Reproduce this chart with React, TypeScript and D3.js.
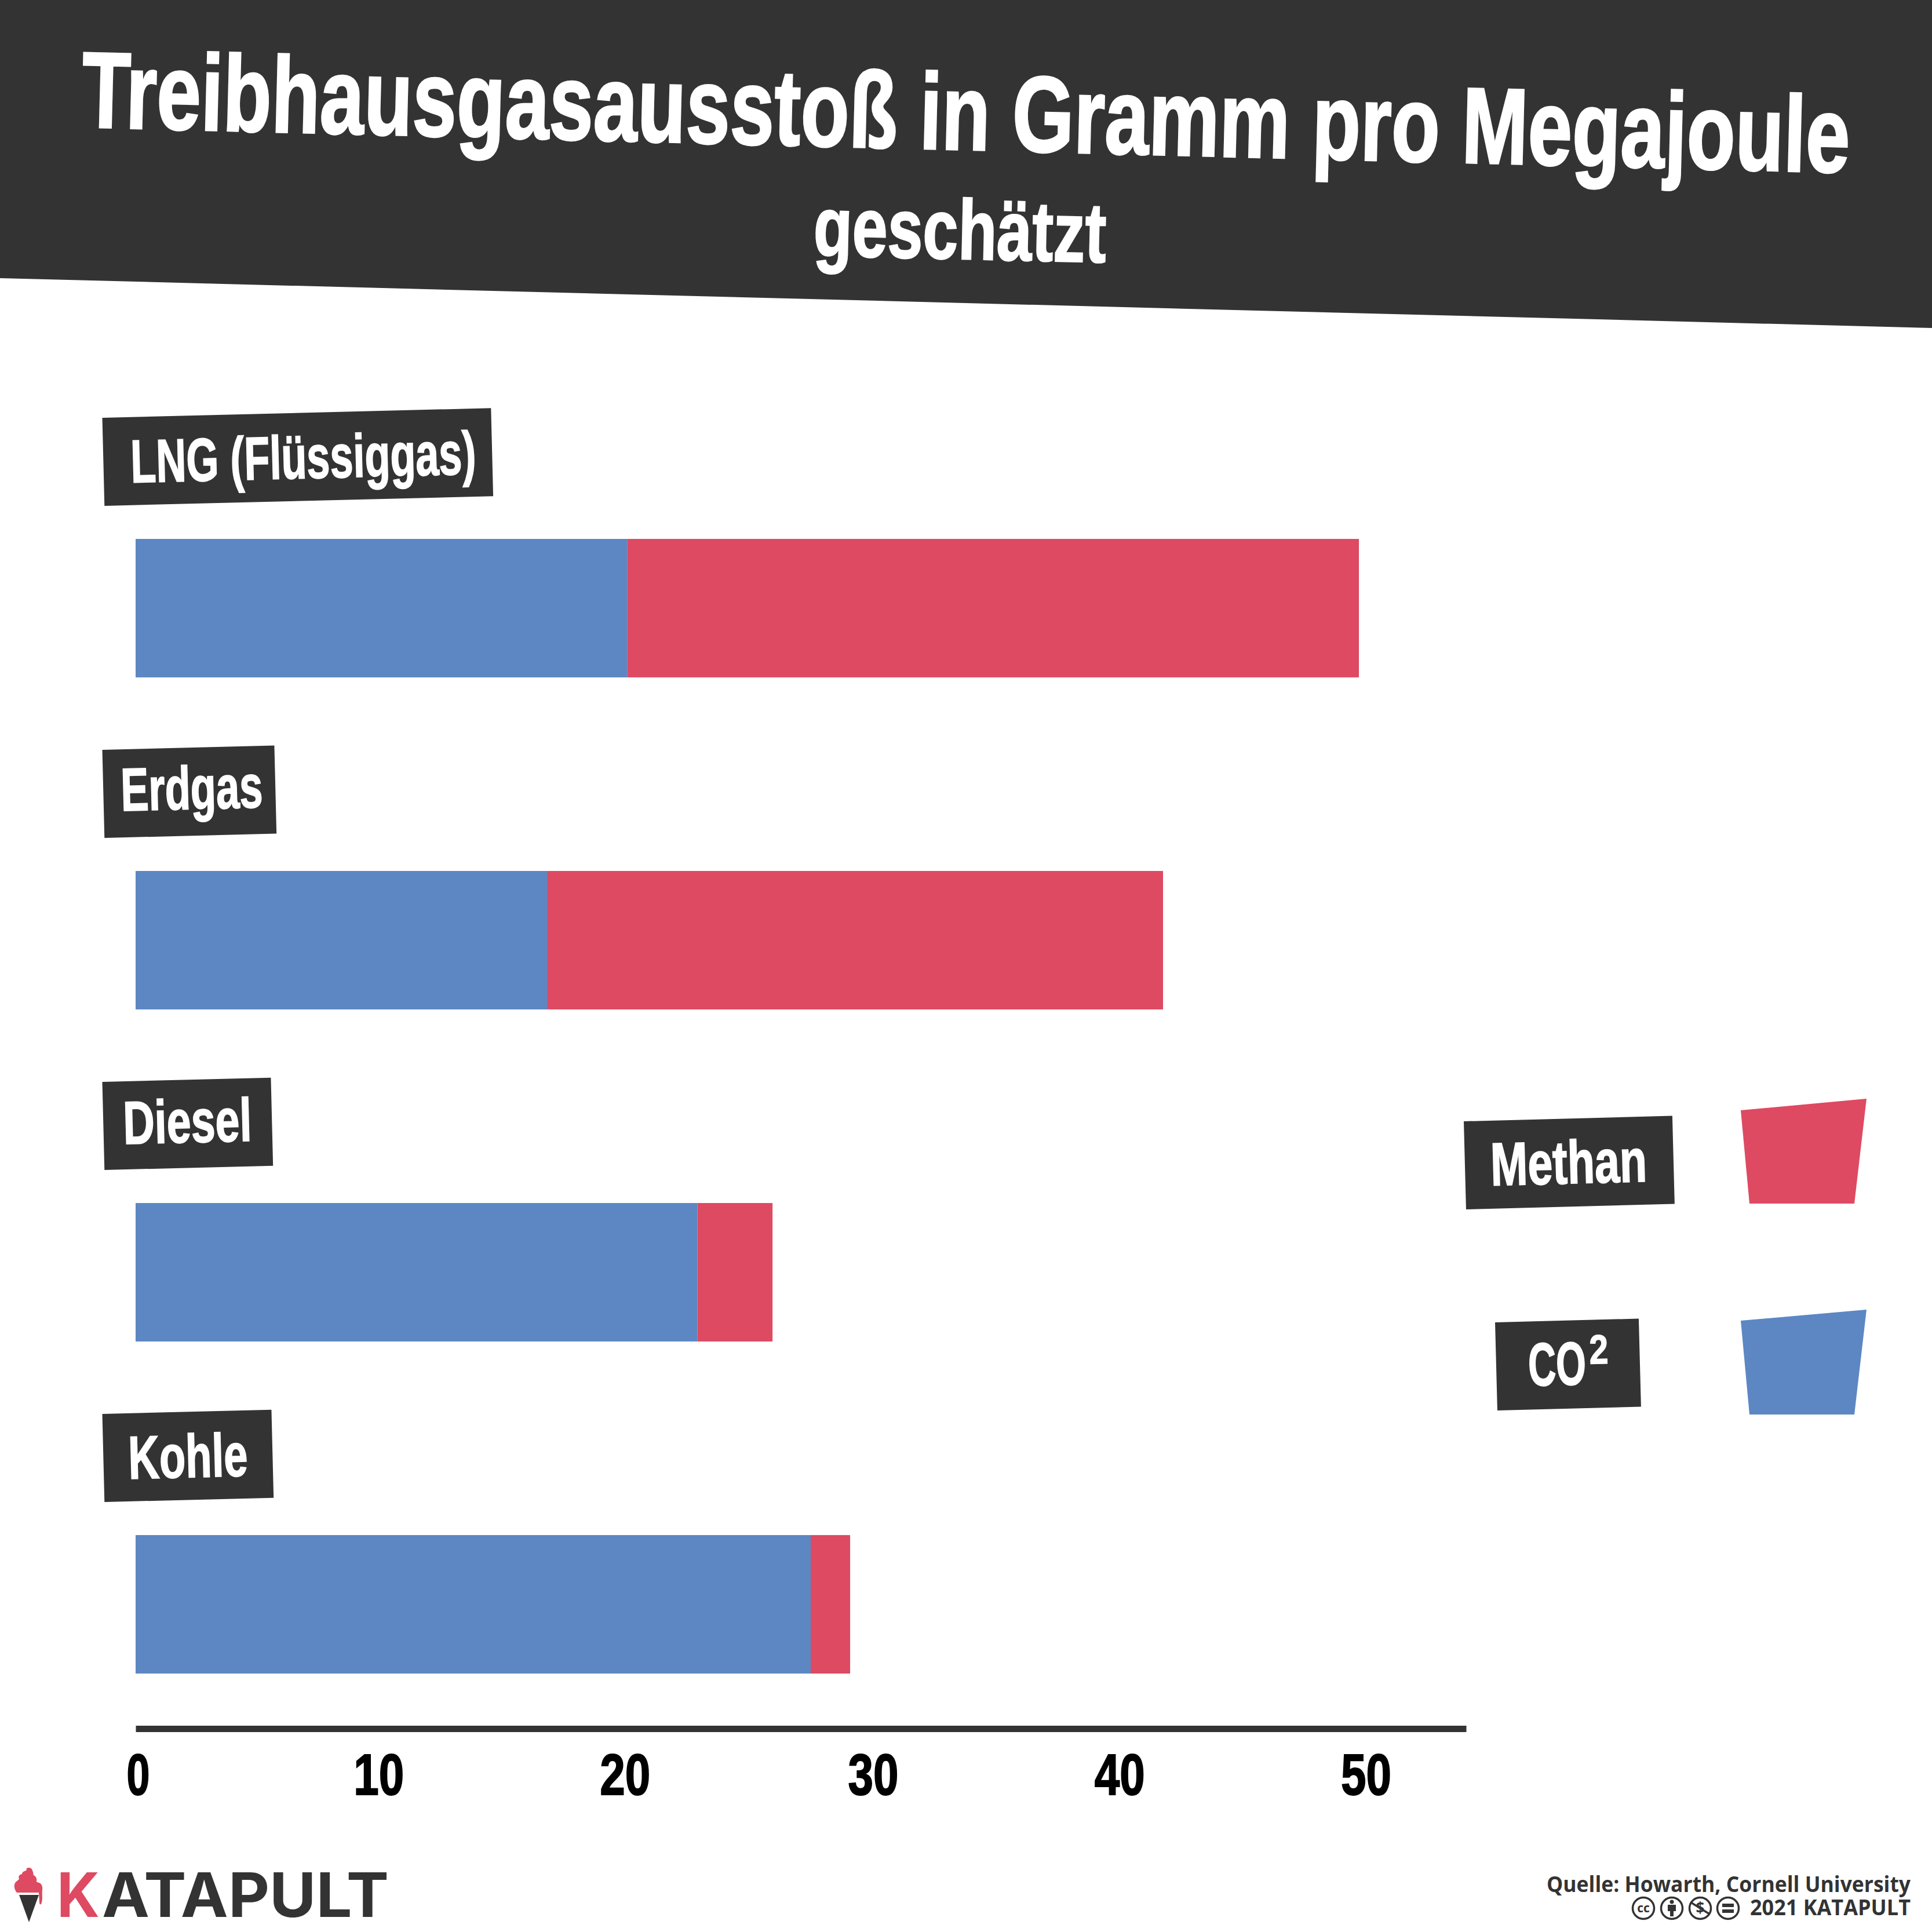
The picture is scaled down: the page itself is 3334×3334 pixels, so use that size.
import React, { useRef, useEffect } from "react";
import * as d3 from "d3";

// values, g per MJ
const categories = ["LNG (Flüssiggas)", "Erdgas", "Diesel", "Kohle"];
const co2 = [19.95, 16.7, 22.8, 27.4];
const methan = [29.7, 25, 3.05, 1.6];
const seriesKeys = ["co2", "methan"];
const axisTicks = [0, 10, 20, 30, 40, 50];

const DARK = "#333333";
const RED = "#dd4a62";
const BLUE = "#5c87c3";
const CONDENSED = "'Liberation Sans', sans-serif";

const SIZE = 3334;
const rows = categories.map((name, i) => ({ name, co2: co2[i], methan: methan[i] }));

const x = d3.scaleLinear().domain([0, 54]).range([234, 2530]);
const y = d3
  .scaleBand<string>()
  .domain(categories)
  .range([930, 2888])
  .paddingInner(0.583)
  .paddingOuter(0);
const color = d3.scaleOrdinal<string>().domain(seriesKeys).range([BLUE, RED]);
const stacked = d3.stack<any>().keys(seriesKeys)(rows);

// label box widths and text placement, in the same order as categories
const labelBoxWidth = [671, 297, 291, 292];
const labelTextX = [47, 30, 34, 43];
const labelTextY = [113, 106, 108, 113];
const labelTextWidth = [596, 245, 222, 206];

const BlockText: React.FC<{
  x: number;
  y: number;
  width: number;
  size: number;
  angle?: number;
  children: React.ReactNode;
}> = ({ x: tx, y: ty, width, size, angle = 0, children }) => (
  <text
    x={tx}
    y={ty}
    fontFamily={CONDENSED}
    fontWeight={700}
    fontSize={size}
    fill="#fff"
    stroke="#fff"
    strokeWidth={size * 0.018}
    textLength={width}
    lengthAdjust="spacingAndGlyphs"
    transform={angle ? `rotate(${angle} ${tx} ${ty})` : undefined}
  >
    {children}
  </text>
);

const CcIcons: React.FC = () => {
  const cy = 3293;
  return (
    <g fill="none" stroke={DARK} strokeWidth={3.5}>
      {[2836, 2885, 2934, 2982].map((cx) => (
        <circle key={cx} cx={cx} cy={cy} r={18.5} />
      ))}
      <text x={2836} y={3300} textAnchor="middle" fontFamily="'Open Sans'" fontWeight={700} fontSize={21} fill={DARK} stroke="none">
        cc
      </text>
      <circle cx={2885} cy={3282} r={3.5} fill={DARK} stroke="none" />
      <path d="M2878 3287h14v11h-4v9h-6v-9h-4z" fill={DARK} stroke="none" />
      <text x={2934} y={3302} textAnchor="middle" fontFamily="'Open Sans'" fontWeight={700} fontSize={26} fill={DARK} stroke="none">
        $
      </text>
      <path d="M2918 3283l32 20" />
      <path d="M2972 3285h20v6h-20zM2972 3295h20v6h-20z" fill={DARK} stroke="none" />
    </g>
  );
};

const App: React.FC = () => {
  const axisRef = useRef<SVGGElement | null>(null);

  useEffect(() => {
    if (!axisRef.current) return;
    const g = d3.select(axisRef.current);
    g.call(d3.axisBottom(x).tickValues(axisTicks).tickSize(0).tickSizeOuter(0).tickFormat(d3.format("d")));
    g.select(".domain").attr("stroke", DARK).attr("stroke-width", 11);
    g.selectAll(".tick text")
      .attr("y", 114)
      .attr("dy", 0)
      .attr("dx", (d: any) => (d === 0 ? 4 : d >= 30 ? -3 : -6))
      .attr("fill", "#000")
      .attr("stroke", "#000")
      .attr("stroke-width", 2)
      .attr("font-family", CONDENSED)
      .attr("font-weight", 700)
      .attr("font-size", 100)
      .attr("textLength", (d: any) => (d === 0 ? 40 : 87))
      .attr("lengthAdjust", "spacingAndGlyphs");
  }, []);

  return (
    <svg
      width={SIZE}
      height={SIZE}
      viewBox={`0 0 ${SIZE} ${SIZE}`}
      style={{ position: "absolute", left: 0, top: 0, background: "#fff" }}
    >
      {/* header */}
      <polygon points="0,0 3334,0 3334,566 0,480" fill={DARK} />
      <BlockText x={140} y={219} width={3052} size={186} angle={1.48}>
        Treibhausgasausstoß in Gramm pro Megajoule
      </BlockText>
      <BlockText x={1403} y={441} width={505} size={146} angle={1.3}>
        geschätzt
      </BlockText>

      {/* bars */}
      {stacked.map((s) =>
        s.map((d, i) => (
          <rect
            key={`${s.key}-${i}`}
            x={x(d[0])}
            y={y(categories[i])}
            width={x(d[1]) - x(d[0])}
            height={y.bandwidth()}
            fill={color(s.key)}
          />
        ))
      )}

      {/* category labels */}
      {categories.map((c, i) => (
        <g key={c} transform={`translate(176.5,${(y(c) as number) - 209}) rotate(-1.43)`}>
          <rect width={labelBoxWidth[i]} height={152} fill={DARK} />
          <BlockText x={labelTextX[i]} y={labelTextY[i]} width={labelTextWidth[i]} size={105}>
            {c}
          </BlockText>
        </g>
      ))}

      {/* axis */}
      <g ref={axisRef} transform="translate(0,2983)" />

      {/* legend */}
      <g transform="translate(2526,1935) rotate(-1.5)">
        <rect width={360} height={152} fill={DARK} />
        <BlockText x={44} y={112} width={270} size={105}>
          Methan
        </BlockText>
      </g>
      <polygon points="3004,1916 3221,1896 3200,2077 3019,2077" fill={RED} />
      <g transform="translate(2580,2282) rotate(-1.5)">
        <rect width={248} height={152} fill={DARK} />
        <BlockText x={55} y={111} width={100} size={105}>
          CO
        </BlockText>
        <BlockText x={161} y={76} width={33} size={71}>
          2
        </BlockText>
      </g>
      <polygon points="3004,2279 3221,2260 3200,2441 3019,2441" fill={BLUE} />

      {/* logo */}
      <g>
        <path
          d="M29 3266C24 3260 23 3251 28 3247C32 3244 33 3243 33 3242C31 3238 33 3235 38 3234C38 3231 41 3229 45 3228C47 3226 45 3225 46 3224C50 3222 55 3223 56 3228C58 3232 57 3234 58 3236C62 3238 64 3242 63 3246C63 3248 66 3249 68 3249C72 3251 74 3256 73 3262C72 3270 74 3276 72 3283C71 3288 68 3287 68 3283L67 3266Z"
          fill={RED}
        />
        <polygon points="33,3270 67,3270 50,3317" fill={DARK} />
        <text x={98} y={3308} fontFamily="Inter" fontWeight={700} fontSize={106} fill={RED} textLength={74} lengthAdjust="spacingAndGlyphs">
          K
        </text>
        <text x={176} y={3308} fontFamily="Inter" fontWeight={700} fontSize={106} fill={DARK} textLength={495} lengthAdjust="spacingAndGlyphs">
          ATAPULT
        </text>
      </g>

      {/* source */}
      <text x={2669} y={3265} fontFamily="'Open Sans'" fontWeight={700} fontSize={37} fill={DARK} textLength={628} lengthAdjust="spacingAndGlyphs">
        Quelle: Howarth, Cornell University
      </text>
      <CcIcons />
      <text x={3020} y={3305} fontFamily="'Open Sans'" fontWeight={700} fontSize={37} fill={DARK} textLength={277} lengthAdjust="spacingAndGlyphs">
        2021 KATAPULT
      </text>
    </svg>
  );
};

export default App;
